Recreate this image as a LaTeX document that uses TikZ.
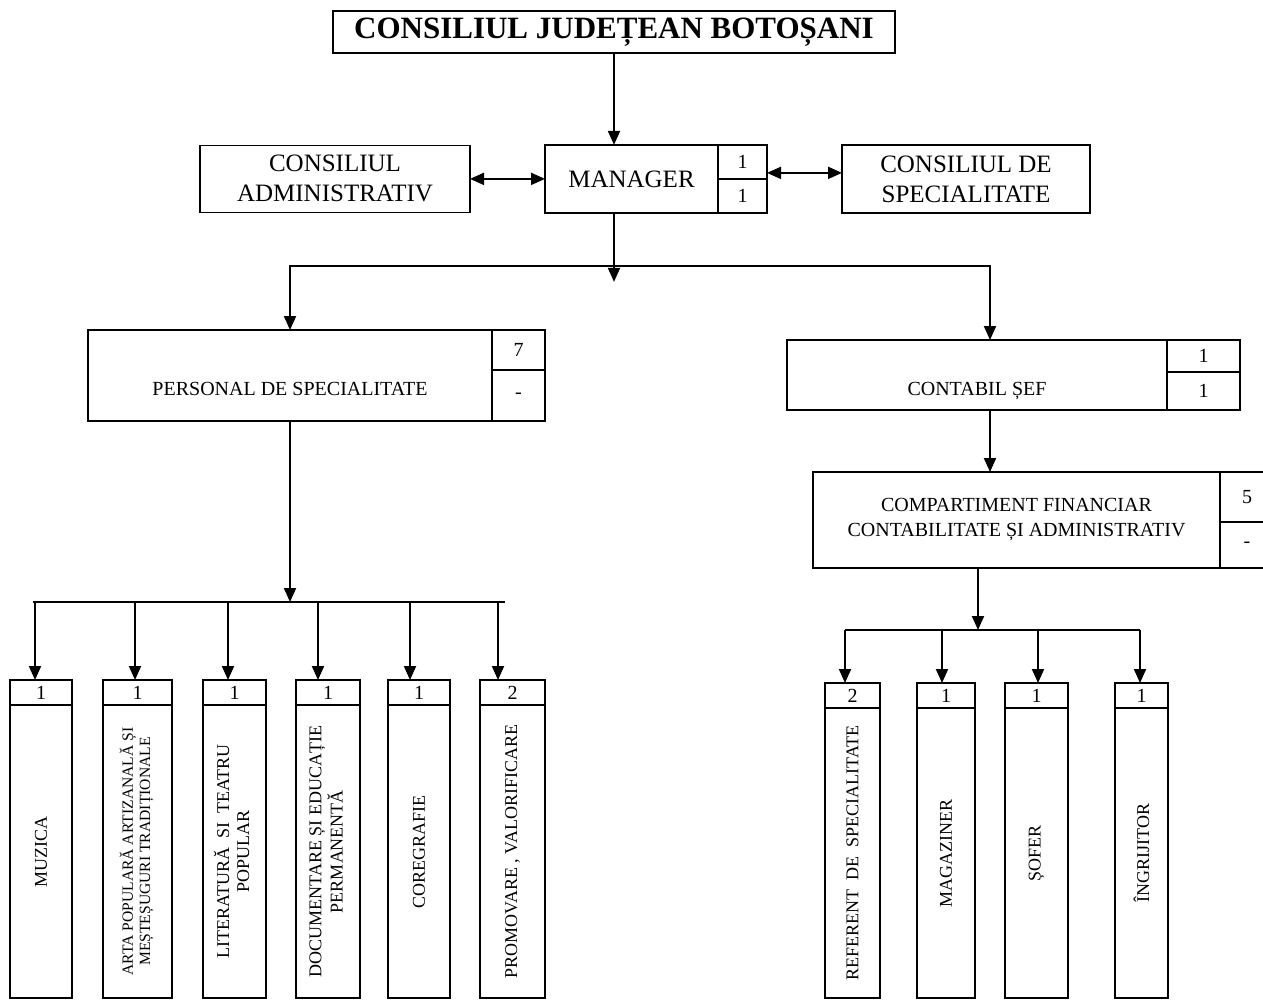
\documentclass[tikz,border=0pt]{standalone}
\usepackage{fontspec}
\setmainfont{Liberation Serif}
\usepackage{graphicx}
\usetikzlibrary{arrows.meta, calc, positioning}
\tikzstyle{orgbox} = [draw, rectangle, outer sep=0pt, line width=0.75pt, align=center, text centered]
\tikzstyle{headbox} = [orgbox, line width=1.1pt, font=\fontsize{15.5}{18}\selectfont\bfseries]
\tikzstyle{boardbox} = [orgbox, font=\fontsize{12.5}{15}\selectfont]
\tikzstyle{unitbox} = [orgbox, font=\fontsize{10}{12.5}\selectfont]
\tikzstyle{countcell} = [orgbox, inner sep=0pt, font=\fontsize{10}{12}\selectfont]
\tikzstyle{jobbox} = [orgbox, inner sep=0pt, font=\fontsize{9}{10}\selectfont]
\tikzstyle{orgline} = [line width=1pt]
\tikzstyle{orgarrow} = [->, line width=1pt, >={Triangle[length=7pt,width=6pt]}]
\tikzstyle{linkarrow} = [<->, line width=1pt, >={Triangle[length=7pt,width=6pt]}]

\begin{document}
\begin{tikzpicture}
		\clip (0,0) rectangle (631.5pt,-500.5pt);
		\fill [white] (0,0) rectangle (631.5pt,-500.5pt);
		% top of the chart
		\node (council) [headbox, minimum width=281pt, minimum height=18pt] at (307pt,-16pt) {CONSILIUL JUDEȚEAN BOTOȘANI};
		\node (manager) [boardbox, minimum width=86.5pt, minimum height=34pt, below=46pt of council, xshift=8.75pt] {MANAGER};
		\node (manager_a) [countcell, minimum width=24.5pt, minimum height=17pt, anchor=north west] at (manager.north east) {1};
		\node (manager_b) [countcell, minimum width=24.5pt, minimum height=17pt, below=0pt of manager_a] {1};
		\node (admin) [boardbox, minimum width=135pt, minimum height=33.5pt, left=37.5pt of manager] {CONSILIUL\\ADMINISTRATIV};
		\node (expert) [boardbox, minimum width=124pt, minimum height=34pt, right=62pt of manager] {CONSILIUL DE\\SPECIALITATE};
		% second level
		\node (staff) [unitbox, minimum width=202pt, minimum height=45.5pt, text height=20pt] at (145pt,-187.75pt) {PERSONAL DE SPECIALITATE};
		\node (staff_a) [countcell, minimum width=26.5pt, minimum height=20pt, anchor=north west] at (staff.north east) {7};
		\node (staff_b) [countcell, minimum width=26.5pt, minimum height=25.5pt, below=0pt of staff_a] {-};
		\node (chief) [unitbox, minimum width=190pt, minimum height=35pt, text height=22.5pt] at (488.5pt,-187.5pt) {CONTABIL ȘEF};
		\node (chief_a) [countcell, minimum width=36.5pt, minimum height=16pt, anchor=north west] at (chief.north east) {1};
		\node (chief_b) [countcell, minimum width=36.5pt, minimum height=19pt, below=0pt of chief_a] {1};
		\node (finance) [unitbox, minimum width=203.5pt, minimum height=48pt] at (508.25pt,-260pt) {COMPARTIMENT FINANCIAR\\CONTABILITATE ȘI ADMINISTRATIV};
		\node (finance_a) [countcell, minimum width=27pt, minimum height=25pt, anchor=north west] at (finance.north east) {5};
		\node (finance_b) [countcell, minimum width=27pt, minimum height=23pt, below=0pt of finance_a] {-};
		% specialist posts
		\node (music_n) [countcell, minimum width=31pt, minimum height=12.5pt] at (20.5pt,-346.25pt) {1};
		\node (music) [jobbox, minimum width=31pt, minimum height=146.5pt, below=0pt of music_n] {\rotatebox{90}{MUZICA}};
		\node (crafts_n) [countcell, minimum width=34.5pt, minimum height=12.5pt, right=15.5pt of music_n] {1};
		\node (crafts) [jobbox, minimum width=34.5pt, minimum height=146.5pt, below=0pt of crafts_n, font=\fontsize{7.8}{8.6}\selectfont] {\rotatebox{90}{\begin{tabular}{@{}c@{}}ARTA POPULARĂ ARTIZANALĂ ȘI\\MEȘTEȘUGURI TRADIȚIONALE\end{tabular}}};
		\node (letters_n) [countcell, minimum width=31.5pt, minimum height=12.5pt, right=15.5pt of crafts_n] {1};
		\node (letters) [jobbox, minimum width=31.5pt, minimum height=146.5pt, below=0pt of letters_n] {\rotatebox{90}{\begin{tabular}{@{}c@{}}LITERATURĂ \ SI \ TEATRU\\POPULAR\end{tabular}}};
		\node (docs_n) [countcell, minimum width=32pt, minimum height=12.5pt, right=15pt of letters_n] {1};
		\node (docs) [jobbox, minimum width=32pt, minimum height=146.5pt, below=0pt of docs_n] {\rotatebox{90}{\begin{tabular}{@{}c@{}}DOCUMENTARE ȘI EDUCAȚIE\\PERMANENTĂ\end{tabular}}};
		\node (dance_n) [countcell, minimum width=31pt, minimum height=12.5pt, right=14pt of docs_n] {1};
		\node (dance) [jobbox, minimum width=31pt, minimum height=146.5pt, below=0pt of dance_n] {\rotatebox{90}{COREGRAFIE}};
		\node (promo_n) [countcell, minimum width=32.5pt, minimum height=12.5pt, right=15pt of dance_n] {2};
		\node (promo) [jobbox, minimum width=32.5pt, minimum height=146.5pt, below=0pt of promo_n] {\rotatebox{90}{PROMOVARE , VALORIFICARE}};
		% finance posts
		\node (clerk_n) [countcell, minimum width=27.5pt, minimum height=12.5pt] at (426.25pt,-347.75pt) {2};
		\node (clerk) [jobbox, minimum width=27.5pt, minimum height=145pt, below=0pt of clerk_n] {\rotatebox{90}{REFERENT \ DE \ SPECIALITATE}};
		\node (store_n) [countcell, minimum width=29pt, minimum height=12.5pt, right=18.5pt of clerk_n] {1};
		\node (store) [jobbox, minimum width=29pt, minimum height=145pt, below=0pt of store_n] {\rotatebox{90}{MAGAZINER}};
		\node (driver_n) [countcell, minimum width=31.5pt, minimum height=12.5pt, right=15pt of store_n] {1};
		\node (driver) [jobbox, minimum width=31.5pt, minimum height=145pt, below=0pt of driver_n] {\rotatebox{90}{ȘOFER}};
		\node (keeper_n) [countcell, minimum width=26.5pt, minimum height=12.5pt, right=23.5pt of driver_n] {1};
		\node (keeper) [jobbox, minimum width=26.5pt, minimum height=145pt, below=0pt of keeper_n] {\rotatebox{90}{ÎNGRIJITOR}};
		% connectors
		\coordinate (hub) at ($(council.south |- manager.south)+(0,-26.5pt)$);
		\coordinate (split_l) at ($(staff.south)+(0,-90.5pt)$);
		\coordinate (split_r) at ($(finance.south)+(-19.25pt,-31pt)$);
		\draw [orgarrow] (council.south) -- (council.south |- manager.north);
		\draw [linkarrow] (admin) -- (admin -| manager.west);
		\draw [linkarrow] ([yshift=3pt]manager_b.north east) -- ([yshift=3pt]manager_b.north east -| expert.west);
		\draw [orgarrow] (council.south |- manager.south) -- ([yshift=-8pt]hub);
		\draw [orgarrow] (hub) -| (staff.north);
		\draw [orgarrow] (hub) -| ([xshift=6.5pt]chief.north);
		\draw [orgarrow] ([xshift=6.5pt]chief.south) -- ([xshift=6.5pt]chief.south |- finance.north);
		\draw [orgarrow] (staff.south) -- (split_l);
		\draw [orgline] ([xshift=-4pt]split_l -| music_n) -- ([xshift=-3.75pt]split_l -| promo_n);
		\draw [orgarrow] ([xshift=-3pt]split_l -| music_n) -- ([xshift=-3pt]music_n.north);
		\draw [orgarrow] ([xshift=-1.25pt]split_l -| crafts_n) -- ([xshift=-1.25pt]crafts_n.north);
		\draw [orgarrow] ([xshift=-3.25pt]split_l -| letters_n) -- ([xshift=-3.25pt]letters_n.north);
		\draw [orgarrow] ([xshift=-5pt]split_l -| docs_n) -- ([xshift=-5pt]docs_n.north);
		\draw [orgarrow] ([xshift=-4.5pt]split_l -| dance_n) -- ([xshift=-4.5pt]dance_n.north);
		\draw [orgarrow] ([xshift=-7.25pt]split_l -| promo_n) -- ([xshift=-7.25pt]promo_n.north);
		\draw [orgarrow] ([xshift=-19.25pt]finance.south) -- (split_r);
		\draw [orgline] ([xshift=-3.75pt]split_r -| clerk_n) -- ([xshift=-0.75pt]split_r -| keeper_n);
		\draw [orgarrow] ([xshift=-3.75pt]split_r -| clerk_n) -- ([xshift=-3.75pt]clerk_n.north);
		\draw [orgarrow] ([xshift=-2pt]split_r -| store_n) -- ([xshift=-2pt]store_n.north);
		\draw [orgarrow] ([xshift=0.75pt]split_r -| driver_n) -- ([xshift=0.75pt]driver_n.north);
		\draw [orgarrow] ([xshift=-0.75pt]split_r -| keeper_n) -- ([xshift=-0.75pt]keeper_n.north);
\end{tikzpicture}
\end{document}
